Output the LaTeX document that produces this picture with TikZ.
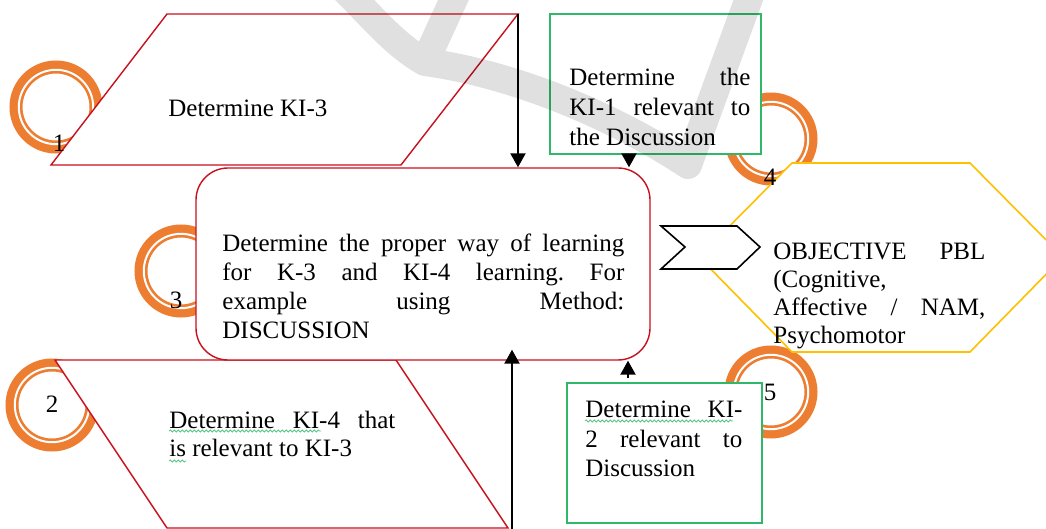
\documentclass[tikz,border=0pt]{standalone}
\usepackage{fontspec}
\setmainfont{Liberation Serif}
\usetikzlibrary{arrows.meta,decorations.pathmorphing}
\definecolor{boxred}{RGB}{200,16,30}
\definecolor{boxgreen}{RGB}{46,184,104}
\definecolor{ringorange}{RGB}{237,125,49}
\definecolor{hexyellow}{RGB}{255,192,0}
\tolerance=10000
\hyphenpenalty=10000
\frenchspacing

\begin{document}
\begin{tikzpicture}[x=0.5pt, y=-0.5pt,
  every node/.style={font=\fontsize{12.5}{14.5}\selectfont, inner sep=0pt},
  ring/.style={draw=ringorange, line width=6.5pt},
  ringgap/.style={draw=white, line width=1pt},
  redshape/.style={draw=boxred, fill=white, line width=0.7pt},
  greenbox/.style={draw=boxgreen, fill=white, line width=0.8pt, rectangle},
  flow/.style={-{Triangle[width=7.5pt,length=7pt]}, line width=1.1pt, black},
  body/.style={align=justify, anchor=base west},
  spell/.style={draw=boxgreen!80, line width=0.4pt, decorate,
    decoration={snake, amplitude=0.5pt, segment length=2pt}}]
\useasboundingbox (0,0) rectangle (1046,529);
\clip (0,0) rectangle (1046,529);

% numbered rings
\draw [ring] (56,107) circle (20pt);
\draw [ringgap] (56,107) circle (18.6pt);
\draw [ring] (52,405) circle (20pt);
\draw [ringgap] (52,405) circle (18.6pt);
\draw [ring] (181,271) circle (20pt);
\draw [ringgap] (181,271) circle (18.6pt);
\draw [ring] (771,139) circle (20pt);
\draw [ringgap] (771,139) circle (18.6pt);
\draw [ring] (771,392) circle (20pt);
\draw [ringgap] (771,392) circle (18.6pt);

% shapes
\draw [redshape] (167,14) coordinate (kthree-tl) -- (518,14) coordinate (kthree-tr) -- (401,165) -- (51,165) -- cycle;
\draw [redshape] (55,360) -- (396,360) -- (508,528) -- (167,528) -- cycle;
\node [redshape, rounded corners=16pt, minimum width=227pt, minimum height=96pt] (disc) at (423,264) {};
\node [greenbox, minimum width=105.5pt, minimum height=70pt] (kione) at (655.5,84) {};
\node [greenbox, minimum width=97.5pt, minimum height=70pt] (kitwo) at (664.5,453) {};
\draw [draw=hexyellow, fill=white, line width=0.8pt] (792,163) -- (970,163) -- (1063,257) -- (970,352) -- (792,352) -- (699,257) -- cycle;
\draw [black, fill=white, line width=0.8pt] (661,226) -- (737,226) -- (760,247) -- (737,269) -- (661,269) -- (685,247) -- cycle;

% texts
\node [anchor=base west] (kthree) at (168,117) {Determine KI-3};
\node [body, text width=201pt] (disctext) at (222,252) {Determine the proper way of learning\linebreak for K-3 and KI-4 learning. For\linebreak example using Method:\linebreak DISCUSSION};
\node [body, text width=90.5pt, font=\fontsize{12.5}{15}\selectfont] (kionetext) at (569,86) {Determine the\linebreak KI-1 relevant to\linebreak the Discussion};
\node [body, text width=106pt, font=\fontsize{12.5}{14}\selectfont] (goal) at (773,260) {OBJECTIVE PBL\linebreak (Cognitive,\newline Affective / NAM,\linebreak Psychomotor};
\node [body, text width=113pt, font=\fontsize{12.5}{14}\selectfont] (kfour) at (169,429) {Determine KI-4 that\linebreak is relevant to KI-3};
\node [body, text width=78.5pt, font=\fontsize{12.5}{14.75}\selectfont] (kitwotext) at (585,418) {Determine KI-\linebreak 2 relevant to\linebreak Discussion};

\draw [spell] (169,431) -- (321,431);
\draw [spell] (169,461) -- (186,461);
\draw [spell] (585,421) -- (733,421);

% ring numbers
\node (none) at (59,143) {1};
\node (ntwo) at (52,404) {2};
\node (nthree) at (176,300) {3};
\node (nfour) at (770,177) {4};
\node (nfive) at (770,392) {5};

% arrows
\coordinate (kione-out) at (629,154);
\coordinate (kitwo-out) at (628,378);
\coordinate (kfour-foot) at (512,529);
\draw [flow] (kthree-tr) -- (kthree-tr |- disc.north);
\draw [flow] (kione-out) -- (kione-out |- disc.north);
\draw [flow, shorten >=-5.5pt] (kfour-foot) -- (kfour-foot |- disc.south);
\draw [flow] (kitwo-out) -- (kitwo-out |- disc.south);

% watermark
\draw [black, opacity=0.12, line width=14pt, line cap=round, line join=round] (345,-10) .. controls (375,20) and (395,45) .. (425,62) .. controls (520,75) and (620,120) .. (688,165) -- (752,-10) (458,-10) -- (425,62);
\end{tikzpicture}
\end{document}
